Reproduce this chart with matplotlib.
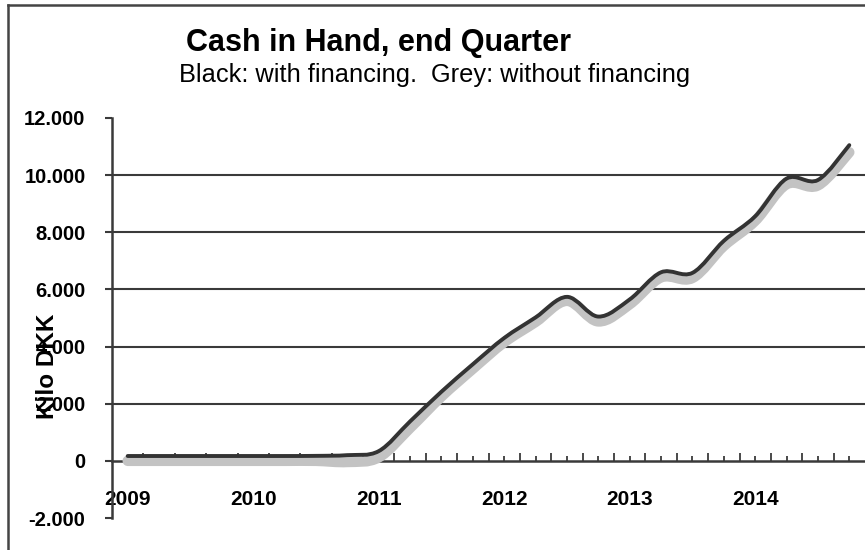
import numpy as np
import matplotlib
matplotlib.use("Agg")
import matplotlib.pyplot as plt
from matplotlib.path import Path
from matplotlib.patches import PathPatch
from matplotlib.lines import Line2D

plt.rcParams['font.family'] = ['Liberation Sans', 'DejaVu Sans']

# ---- data ----
year_labels = ["2009", "2010", "2011", "2012", "2013", "2014"]
quarters = 2009 + 0.25 * np.arange(24)  # end-quarter positions
with_financing = [170, 170, 170, 170, 170, 170, 175, 200,
                  340, 1380, 2420, 3380, 4300, 5020, 5740, 5050,
                  5650, 6600, 6580, 7700, 8560, 9880, 9830, 11050]
without_financing = [0, 0, 0, 0, 0, 0, 0, -40,
                     120, 1150, 2250, 3220, 4150, 4860, 5600, 4880,
                     5480, 6420, 6400, 7520, 8400, 9680, 9640, 10800]
y_ticks = [-2000, 0, 2000, 4000, 6000, 8000, 10000, 12000]
grid_values = [2000, 4000, 6000, 8000, 10000]


def smooth_path(xs, ys):
    """Excel-like smoothed line (Catmull-Rom as cubic Bezier)."""
    pts = np.column_stack([xs, ys]).astype(float)
    n = len(pts)
    verts = [pts[0]]
    codes = [Path.MOVETO]
    for i in range(n - 1):
        p0 = pts[i - 1] if i > 0 else pts[i]
        p1 = pts[i]
        p2 = pts[i + 1]
        p3 = pts[i + 2] if i + 2 < n else pts[i + 1]
        c1 = p1 + (p2 - p0) / 6.0
        c2 = p2 - (p3 - p1) / 6.0
        verts += [c1, c2, p2]
        codes += [Path.CURVE4] * 3
    return Path(verts, codes)


W, H = 865, 550
fig = plt.figure(figsize=(W / 100, H / 100), dpi=100)
ax = fig.add_axes([112 / W, 1 - 518 / H, (W - 112) / W, 400 / H])
ax.set_xlim(2008.875, 2014.875)
ax.set_ylim(-2000, 12000)

frame_col = '#3a3a3a'
for s in ['top', 'right']:
    ax.spines[s].set_visible(False)
ax.spines['left'].set_linewidth(1.8)
ax.spines['left'].set_color(frame_col)
ax.spines['bottom'].set_position(('data', 0))
ax.spines['bottom'].set_linewidth(1.8)
ax.spines['bottom'].set_color(frame_col)

# gridlines
for g in grid_values:
    ax.axhline(g, color=frame_col, lw=1.5, zorder=1)

# y ticks
ax.set_yticks(y_ticks)
ax.set_yticklabels([f"{v:,}".replace(",", ".") for v in y_ticks],
                   fontsize=14.5, fontweight='bold')
ax.tick_params(axis='y', direction='out', length=5, width=1.5,
               color=frame_col, pad=14)

# x ticks: boundaries (tall) and quarter centers (short, labelled at years)
boundaries = 2008.875 + 0.25 * np.arange(1, 24)
ax.set_xticks(boundaries)
ax.set_xticklabels([])
ax.set_xticks(quarters, minor=True)
ax.set_xticklabels([year_labels[i // 4] if i % 4 == 0 else "" for i in range(24)],
                   minor=True, fontsize=15, fontweight='bold')
ax.tick_params(axis='x', which='major', direction='in', length=6, width=1.3,
               color=frame_col)
ax.tick_params(axis='x', which='minor', direction='in', length=3.5, width=1.3,
               color=frame_col, pad=21)

# lines
grey = PathPatch(smooth_path(quarters, without_financing), fill=False,
                 edgecolor='#c3c3c3', lw=7.5, capstyle='round', joinstyle='round',
                 zorder=3)
black = PathPatch(smooth_path(quarters, with_financing), fill=False,
                  edgecolor='#333333', lw=2.8, capstyle='round', joinstyle='round',
                  zorder=4)
ax.add_patch(grey)
ax.add_patch(black)

ax.set_ylabel("Kilo DKK", fontsize=17.5, fontweight='bold')
ax.yaxis.set_label_coords((59 - 112) / (W - 112), 0.38)

# titles
fig.text(378 / W, 1 - 43 / H, "Cash in Hand, end Quarter", fontsize=22,
         fontweight='bold', ha='center', va='center')
fig.text(435 / W, 1 - 75 / H, "Black: with financing.  Grey: without financing",
         fontsize=18.3, ha='center', va='center')

# outer frame (top and left edges)
fig.add_artist(Line2D([8 / W, 8 / W], [0, 1 - 5 / H], transform=fig.transFigure,
                      color='#444444', lw=1.8))
fig.add_artist(Line2D([8 / W, 1], [1 - 5 / H, 1 - 5 / H], transform=fig.transFigure,
                      color='#444444', lw=1.8))

fig.savefig("out.png", dpi=100)
